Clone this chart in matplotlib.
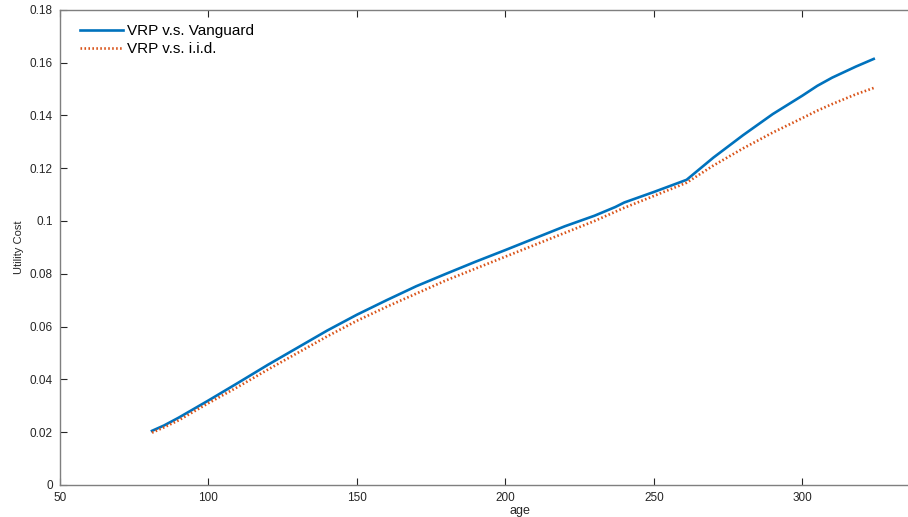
import matplotlib.pyplot as plt
import numpy as np

plt.rcParams['font.family'] = ['Liberation Sans', 'DejaVu Sans']

# data
age = [81, 85, 90, 100, 110, 120, 130, 140, 150, 160, 170, 180, 190, 200,
       210, 220, 230, 237, 240, 250, 261, 270, 280, 290, 300, 305, 310, 318, 324]
vrp_vanguard = [0.0205, 0.0225, 0.0255, 0.032, 0.0387, 0.0455, 0.052, 0.0585,
                0.0645, 0.070, 0.0753, 0.080, 0.0846, 0.089, 0.0935, 0.098,
                0.102, 0.1053, 0.107, 0.111, 0.1156, 0.124, 0.1325, 0.1405,
                0.1475, 0.1512, 0.1543, 0.1585, 0.1614]
vrp_iid = [0.0198, 0.0218, 0.0245, 0.031, 0.0372, 0.0437, 0.050, 0.0563,
           0.0622, 0.0675, 0.0725, 0.0775, 0.082, 0.0865, 0.091, 0.0955,
           0.1, 0.1035, 0.105, 0.1095, 0.1145, 0.121, 0.1275, 0.1335,
           0.139, 0.1418, 0.1443, 0.148, 0.1504]

fig = plt.figure(figsize=(9.08, 5.17), dpi=100)
ax = fig.add_axes([0.066, 0.062, 1.014, 0.919])

ax.plot(age, vrp_vanguard, color='#0072BD', lw=1.9, label='VRP v.s. Vanguard')
ax.plot(age, vrp_iid, color='#D95319', lw=1.9, ls=(0, (0.6, 0.9)),
        label='VRP v.s. i.i.d.')

ax.set_xlim(50, 360)
ax.set_ylim(0, 0.18)
ax.set_xticks(np.arange(50, 301, 50))
ax.set_yticks(np.arange(0, 0.181, 0.02))
ax.set_yticklabels(['0', '0.02', '0.04', '0.06', '0.08', '0.1', '0.12',
                    '0.14', '0.16', '0.18'])

axis_col = '#262626'
for s in ax.spines.values():
    s.set_color('#7f7f7f')
    s.set_linewidth(1.0)
ax.spines['right'].set_visible(False)
ax.tick_params(direction='in', length=5, width=0.8, colors=axis_col,
               labelsize=8.5, top=True, right=False, pad=5)

ax.set_xlabel('age', fontsize=9, color=axis_col, labelpad=1)
ax.set_ylabel('Utility Cost', fontsize=8, color=axis_col, labelpad=4)

ax.legend(loc='upper left', frameon=False, fontsize=11, handlelength=2.8,
          handletextpad=0.25, labelspacing=0.25, borderaxespad=0.55,
          bbox_to_anchor=(0.006, 1.0))

fig.savefig('out.png', dpi=100)
